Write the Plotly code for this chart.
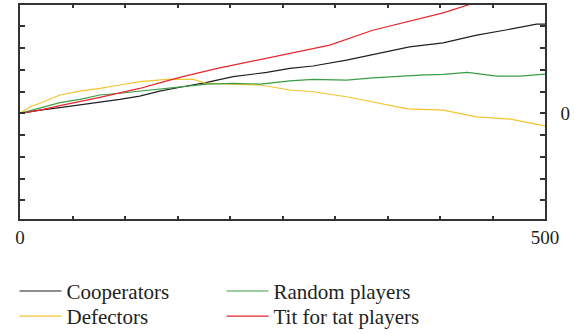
import plotly.graph_objects as go

# Cumulative payoff of each strategy group over 500 rounds
coop_x = [0, 19, 38, 57, 76, 95, 114, 133, 155, 178, 203, 235, 257, 279, 311, 343, 371, 403, 435, 467, 492, 500]
coop_y = [0, 1.5, 2.6, 3.8, 5.3, 6.4, 7.9, 10.2, 12.2, 14.2, 16.8, 18.8, 20.6, 21.7, 24.4, 27.7, 30.5, 32.3, 35.9, 38.6, 40.9, 40.9]

defect_x = [0, 9.5, 19, 38, 57, 76, 95, 114, 140, 155, 165, 178, 203, 229, 257, 279, 311, 343, 369, 403, 435, 467, 500]
defect_y = [0, 3.0, 4.6, 8.4, 10.2, 11.4, 13.0, 14.5, 15.6, 15.7, 15.6, 13.7, 13.3, 13.0, 10.7, 9.9, 7.6, 4.6, 2.0, 1.5, -1.6, -2.7, -5.8]

random_x = [0, 19, 38, 57, 76, 95, 114, 133, 155, 178, 203, 229, 257, 279, 311, 336, 381, 403, 426, 454, 476, 500]
random_y = [0, 2.3, 4.9, 6.4, 8.4, 9.2, 10.2, 11.0, 12.2, 13.4, 13.7, 13.4, 14.9, 15.6, 15.2, 16.3, 17.5, 17.9, 18.8, 17.1, 17.1, 18.0]

tft_x = [0, 19, 38, 57, 76, 95, 114, 133, 155, 188, 219, 248, 295, 336, 371, 403, 431, 467, 500]
tft_y = [0, 1.5, 3.5, 5.3, 7.3, 9.4, 11.4, 14.0, 16.8, 20.6, 23.6, 26.7, 31.3, 38.1, 42.4, 46.1, 50.4, 53.0, 56.0]

# name, x, y, colour, legend id, legend position (x, y) in container fractions
series = [
    ("Cooperators", coop_x, coop_y, "#231f20", "legend", (0.0252, 0.189)),
    ("Defectors", defect_x, defect_y, "#f4c430", "legend2", (0.0252, 0.114)),
    ("Random players", random_x, random_y, "#3a9e45", "legend3", (0.3852, 0.189)),
    ("Tit for tat players", tft_x, tft_y, "#e8262b", "legend4", (0.3852, 0.114)),
]

x_ticks = list(range(0, 501, 50))
x_labels = ["0" if v == 0 else "500" if v == 500 else "" for v in x_ticks]
y_ticks = list(range(-40, 41, 10))
y_labels = ["0" if v == 0 else "" for v in y_ticks]

FONT = "Liberation Serif"
INK = "#231f20"

fig = go.Figure()
legends = {}
for name, xs, ys, color, leg, (lx, ly) in series:
    fig.add_trace(go.Scatter(
        x=xs, y=ys, mode="lines", name=name,
        line=dict(color=color, width=1.2),
        legend=leg, showlegend=True,
    ))
    legends[leg] = dict(
        xref="container", yref="container",
        x=lx, xanchor="left", y=ly, yanchor="top",
        font=dict(family=FONT, size=21, color=INK),
        itemwidth=42, bgcolor="rgba(0,0,0,0)",
    )

fig.update_layout(
    width=575, height=334,
    margin=dict(l=20, r=30, t=5, b=115, autoexpand=False),
    paper_bgcolor="white", plot_bgcolor="white",
    font=dict(family=FONT, size=19, color=INK),
    showlegend=True,
    xaxis=dict(
        range=[0, 500], tickvals=x_ticks, ticktext=x_labels,
        ticks="inside", ticklen=3, tickwidth=2, tickcolor="#333",
        showline=True, linecolor="#333", linewidth=1.5, mirror="ticks",
        showgrid=False, zeroline=False, ticklabelstandoff=0,
    ),
    yaxis=dict(
        range=[-48.5, 49.7], tickvals=y_ticks, ticktext=y_labels, side="right",
        ticks="inside", ticklen=5, tickwidth=2, tickcolor="#333",
        showline=True, linecolor="#333", linewidth=1.5, mirror="ticks",
        showgrid=False, zeroline=False, ticklabelstandoff=10,
    ),
    **legends,
)

fig.write_html("out.html")
